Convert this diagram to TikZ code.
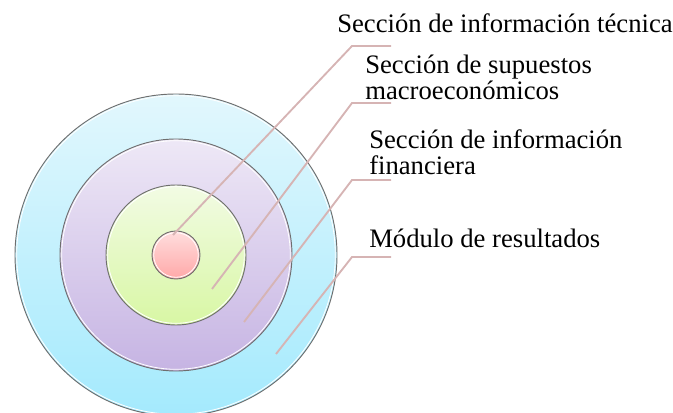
\documentclass[tikz,border=0pt]{standalone}
\usepackage{fontspec}
\setmainfont{Liberation Serif}
\usepackage{tikz}
\definecolor{leadcol}{RGB}{214,180,180}
\definecolor{ringline}{RGB}{110,110,110}
\tikzstyle{ring} = [circle, 
draw=ringline, 
line width=0.7pt, 
inner sep=0pt]
\tikzstyle{outerring} = [ring, top color={rgb,255:red,226;green,247;blue,253}, bottom color={rgb,255:red,164;green,234;blue,253}]
\tikzstyle{midring} = [ring, top color={rgb,255:red,238;green,232;blue,246}, bottom color={rgb,255:red,198;green,180;blue,227}]
\tikzstyle{greenring} = [ring, top color={rgb,255:red,242;green,251;blue,228}, bottom color={rgb,255:red,216;green,247;blue,164}]
\tikzstyle{corering} = [ring, top color={rgb,255:red,255;green,222;blue,222}, bottom color={rgb,255:red,255;green,168;blue,168}]
\tikzstyle{lbl} = [anchor=base west, align=left, inner sep=0pt, 
font=\fontsize{20}{19.5}\selectfont]
\tikzstyle{leader} = [draw=leadcol, line width=1.4pt]

\begin{document}
\begin{tikzpicture}[x=0.75pt, y=-0.75pt]
\useasboundingbox (0,0) rectangle (673,413);

\node (res) [outerring, minimum size=241.5pt] at (176,255) {};
\node (fin) [midring, minimum size=174pt] at (176,255) {};
\node (mac) [greenring, minimum size=105pt] at (176,255) {};
\node (tec) [corering, minimum size=36pt] at (176,255) {};
\draw [white, line width=0.6pt] (176,255) circle (159.3);
\draw [white, line width=0.6pt] (176,255) circle (114.3);
\draw [white, line width=0.6pt] (176,255) circle (68.3);
\draw [white, line width=0.6pt] (176,255) circle (22.3);

\node (lblTec) [lbl] at (337,33) {Sección de información técnica};
\node (lblMac) [lbl] at (365,100) {Sección de supuestos\\macroeconómicos};
\node (lblFin) [lbl] at (369,175) {Sección de información\\financiera};
\node (lblRes) [lbl] at (369,247) {Módulo de resultados};

\coordinate (pTec) at (173,235);
\coordinate (pMac) at (212,289);
\coordinate (pFin) at (244,322);
\coordinate (pRes) at (276,354);
\coordinate (kTec) at (352,46);
\coordinate (kMac) at (352,103);
\coordinate (kFin) at (352,180);
\coordinate (kRes) at (352,257);
\coordinate (eTec) at (391,46);
\coordinate (eMac) at (391,103);
\coordinate (eFin) at (391,180);
\coordinate (eRes) at (391,257);
\draw [leader] (pTec) -- (kTec) -- (eTec);
\draw [leader] (pMac) -- (kMac) -- (eMac);
\draw [leader] (pFin) -- (kFin) -- (eFin);
\draw [leader] (pRes) -- (kRes) -- (eRes);

\end{tikzpicture}
\end{document}
